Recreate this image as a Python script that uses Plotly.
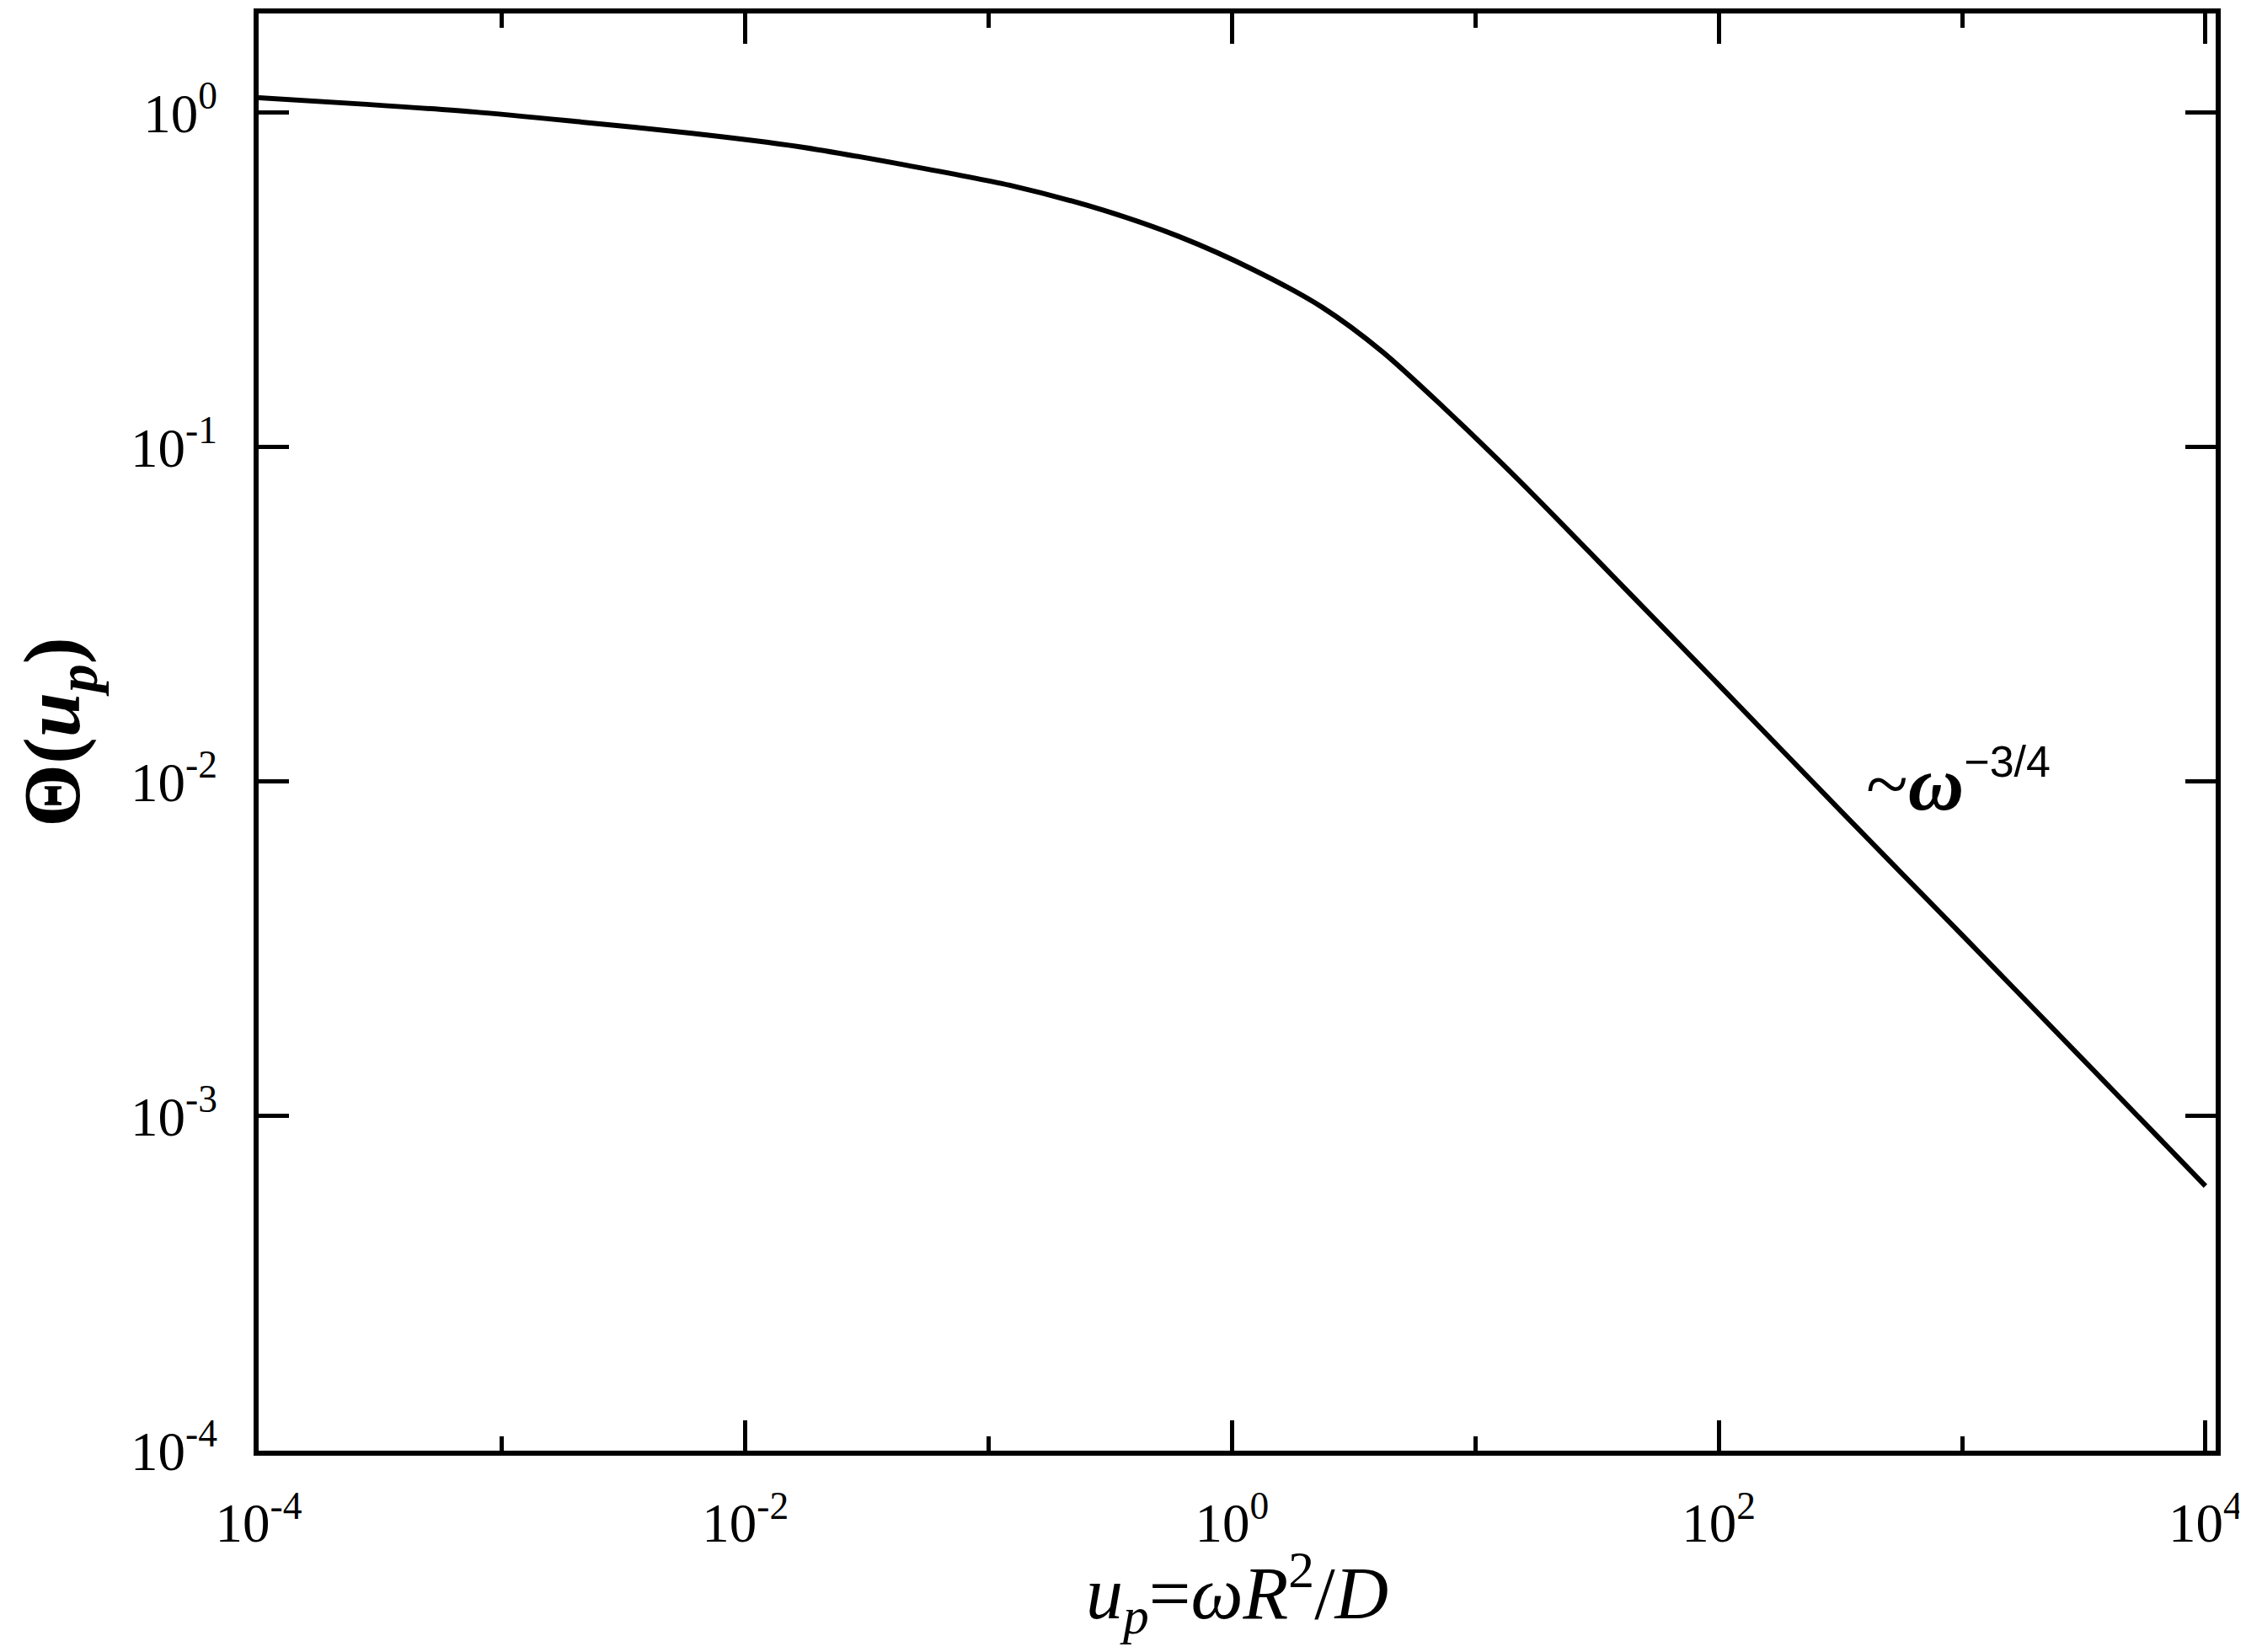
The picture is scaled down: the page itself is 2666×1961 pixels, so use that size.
import plotly.graph_objects as go

# values
u_p = [1e-4, 2.78e-4, 7.7e-4, 2.13e-3, 5.93e-3, 1.65e-2, 4.54e-2, 0.126, 0.297,
       0.604, 1.24, 2.35, 4.15, 7.37, 15.0, 29.1, 50.0, 100.0, 316.0, 1000.0,
       3162.0, 1e4]
theta = [1.109, 1.06, 1.006, 0.938, 0.870, 0.793, 0.698, 0.604, 0.511,
         0.427, 0.338, 0.262, 0.193, 0.132, 0.0800, 0.0490, 0.0327, 0.0195,
         0.0082, 0.00348, 0.00147, 0.000618]

x_major = [1e-4, 1e-2, 1e0, 1e2, 1e4]
x_major_text = ["10<sup>-4</sup>", "10<sup>-2</sup>", "10<sup>0</sup>",
                "10<sup>2</sup>", "10<sup>4</sup>"]
x_minor = [1e-3, 1e-1, 1e1, 1e3]
y_major = [1e-4, 1e-3, 1e-2, 1e-1, 1e0]
y_major_text = ["10<sup>-4</sup>", "10<sup>-3</sup>", "10<sup>-2</sup>",
                "10<sup>-1</sup>", "10<sup>0</sup>"]

serif = "Liberation Serif"

fig = go.Figure()
fig.add_trace(go.Scatter(
    x=u_p, y=theta,
    mode="lines",
    line=dict(color="black", width=6, shape="spline", smoothing=0.8),
    showlegend=False,
    hoverinfo="skip"
))

axis_common = dict(
    type="log",
    showgrid=False,
    zeroline=False,
    showline=True,
    linecolor="black",
    linewidth=6,
    mirror="allticks",
    ticks="inside",
    ticklen=36,
    tickwidth=5,
    tickcolor="black",
    tickfont=dict(family=serif, size=65, color="black"),
    tickmode="array",
)

fig.update_xaxes(
    **axis_common,
    range=[-4, 4.042],
    tickvals=x_major,
    ticktext=x_major_text,
    ticklabelstandoff=24,
    minor=dict(tickvals=x_minor, ticks="inside", ticklen=17, tickwidth=5,
               tickcolor="black"),
)

fig.update_yaxes(
    **axis_common,
    range=[-4, 0.297],
    tickvals=y_major,
    ticktext=y_major_text,
    ticklabelstandoff=30,
    title=dict(
        text="<b>Θ(<i>u</i><sub><i>p</i></sub>)</b>",
        font=dict(family=serif, size=96, color="black"),
        standoff=30,
    ),
)

# x axis title, placed as an annotation so its height can be set exactly
fig.add_annotation(
    x=0.5, y=-0.099, xref="paper", yref="paper",
    xanchor="center", yanchor="middle",
    text="<i>u</i><sub><i>p</i></sub>=<i>ωR</i><sup>2</sup>/<i>D</i>",
    showarrow=False,
    font=dict(family=serif, size=88, color="black"),
)

fig.add_annotation(
    x=2.6, y=-2.0, xref="x", yref="y",
    xanchor="left", yanchor="middle",
    text='~<b><i>ω</i></b><sup><span style="font-family:Liberation Sans;'
         'font-size:52px">−3/4</span></sup>',
    showarrow=False,
    font=dict(family=serif, size=92, color="black"),
)

fig.update_layout(
    width=2666, height=1961,
    margin=dict(l=299, r=44, t=8, b=247, autoexpand=False),
    plot_bgcolor="white",
    paper_bgcolor="white",
)

fig.write_html("out.html")
